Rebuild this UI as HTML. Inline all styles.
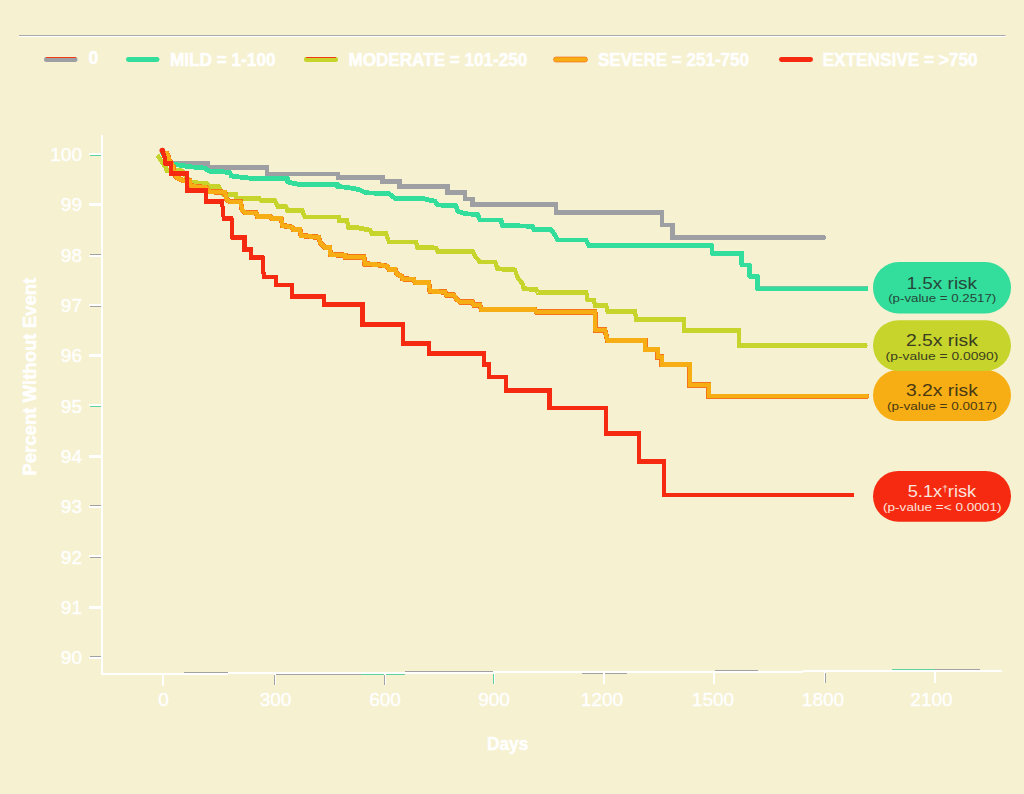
<!DOCTYPE html>
<html>
<head>
<meta charset="utf-8">
<title>Chart</title>
<style>
  html, body { margin: 0; padding: 0; background: #F6F1D1; }
  body { width: 1024px; height: 794px; overflow: hidden; font-family: "Liberation Sans", sans-serif; }
  svg { display: block; }
  text { font-family: "Liberation Sans", sans-serif; }
  .leg { font-weight: bold; font-size: 17.5px; fill: #ffffff; stroke: #ffffff; stroke-width: 0.5px; }
  .tick { font-size: 19px; fill: #ffffff; stroke: #ffffff; stroke-width: 0.35px; }
  .axl { font-weight: bold; font-size: 19px; fill: #ffffff; stroke: #ffffff; stroke-width: 0.5px; }
  .curve { fill: none; shape-rendering: crispEdges; }
  .big { font-size: 16px; }
  .small { font-size: 11px; }
</style>
</head>
<body>
<svg width="1024" height="794" viewBox="0 0 1024 794">
  <rect x="0" y="0" width="1024" height="794" fill="#F6F1D1"/>

  <!-- top rule -->
  <rect x="19" y="35" width="986.5" height="1" fill="#A9A9AC"/>
  <rect x="19" y="36" width="986.5" height="1" fill="#FFFFFF"/>

  <!-- legend -->
  <g>
    <rect x="44" y="57" width="33.5" height="5" rx="2.2" fill="#9E9FA3"/>
    <rect x="46" y="57" width="30" height="1" fill="#F23A14"/>
    <rect x="126" y="57" width="33.5" height="5" rx="2.4" fill="#33DD9B"/>
    <rect x="304" y="57" width="34" height="5" rx="2.2" fill="#C6D42B"/>
    <rect x="306" y="57" width="30" height="1" fill="#F23A14"/>
    <rect x="553.5" y="57" width="34" height="5" rx="2.4" fill="#F7AE14" stroke="#F4601A" stroke-width="0.6"/>
    <rect x="779" y="57" width="34" height="5" rx="2.4" fill="#F52A11"/>
  </g>
  <text class="leg" x="88.6" y="63.8">0</text>
  <text class="leg" x="170" y="65.9" textLength="105.5" lengthAdjust="spacingAndGlyphs">MILD = 1-100</text>
  <text class="leg" x="348.4" y="65.9" textLength="179" lengthAdjust="spacingAndGlyphs">MODERATE = 101-250</text>
  <text class="leg" x="598" y="65.9" textLength="151" lengthAdjust="spacingAndGlyphs">SEVERE = 251-750</text>
  <text class="leg" x="822.6" y="65.9" textLength="155" lengthAdjust="spacingAndGlyphs">EXTENSIVE = &gt;750</text>
  <!-- axes -->
  <g shape-rendering="crispEdges">
    <rect x="101" y="135" width="2" height="540" fill="#FFFFFF"/>
    <rect x="101" y="673" width="127" height="2" fill="#FFFFFF"/>
    <rect x="228" y="672" width="265" height="2" fill="#FFFFFF"/>
    <rect x="493" y="671" width="310" height="2" fill="#FFFFFF"/>
    <rect x="803" y="670" width="199" height="2" fill="#FFFFFF"/>
    <rect x="184" y="672" width="44" height="1" fill="#A2A2A4"/>
    <rect x="275" y="674" width="86" height="1" fill="#A2A2A4"/>
    <rect x="361" y="674" width="43.5" height="1" fill="#5FD3A0"/>
    <rect x="404.5" y="671" width="88.5" height="1" fill="#A2A2A4"/>
    <rect x="582" y="673" width="45" height="1" fill="#A2A2A4"/>
    <rect x="715" y="670" width="43" height="1" fill="#A2A2A4"/>
    <rect x="892" y="669" width="43" height="1" fill="#5FD3A0"/>
    <rect x="935" y="669" width="45" height="1" fill="#A2A2A4"/>
    <rect x="89" y="153" width="12.5" height="2" fill="#FFFFFF"/>
    <rect x="90" y="155" width="11" height="1" fill="#5FD3A0"/>
    <rect x="89" y="203" width="12.5" height="3" fill="#FFFFFF"/>
    <rect x="90" y="254" width="11" height="1" fill="#A2A2A4"/>
    <rect x="89" y="255" width="12.5" height="2" fill="#FFFFFF"/>
    <rect x="89" y="304" width="12.5" height="2" fill="#FFFFFF"/>
    <rect x="90" y="306" width="11" height="1" fill="#A2A2A4"/>
    <rect x="89" y="354" width="12.5" height="3" fill="#FFFFFF"/>
    <rect x="89" y="404" width="12.5" height="2" fill="#FFFFFF"/>
    <rect x="90" y="406" width="11" height="1" fill="#5FD3A0"/>
    <rect x="89" y="455" width="12.5" height="3" fill="#FFFFFF"/>
    <rect x="90" y="505" width="11" height="1" fill="#A2A2A4"/>
    <rect x="89" y="506" width="12.5" height="2" fill="#FFFFFF"/>
    <rect x="89" y="555" width="12.5" height="2" fill="#FFFFFF"/>
    <rect x="90" y="557" width="11" height="1" fill="#A2A2A4"/>
    <rect x="89" y="606" width="12.5" height="3" fill="#FFFFFF"/>
    <rect x="90" y="656" width="11" height="1" fill="#A2A2A4"/>
    <rect x="89" y="657" width="12.5" height="2" fill="#FFFFFF"/>
  </g>
  <g class="tick" text-anchor="end">
    <text x="82" y="161.1">100</text>
    <text x="82" y="211.4">99</text>
    <text x="82" y="261.7">98</text>
    <text x="82" y="312.0">97</text>
    <text x="82" y="362.3">96</text>
    <text x="82" y="412.6">95</text>
    <text x="82" y="462.9">94</text>
    <text x="82" y="513.2">93</text>
    <text x="82" y="563.5">92</text>
    <text x="82" y="613.8">91</text>
    <text x="82" y="664.1">90</text>
  </g>
  <!-- x ticks -->
  <g shape-rendering="crispEdges" fill="#FFFFFF">
    <rect x="162" y="674" width="2" height="12"/>
    <rect x="274" y="673" width="2" height="12"/>
    <rect x="274" y="675" width="1" height="10" fill="#A2A2A4"/>
    <rect x="384" y="673" width="2" height="12"/>
    <rect x="384" y="675" width="1" height="10" fill="#A2A2A4"/>
    <rect x="493" y="672" width="2" height="12"/>
    <rect x="493" y="674" width="1" height="10" fill="#5FD3A0"/>
    <rect x="603" y="672" width="2" height="12"/>
    <rect x="713" y="672" width="2" height="12"/>
    <rect x="824" y="671" width="2" height="12"/>
    <rect x="825" y="673" width="1" height="10" fill="#A2A2A4"/>
    <rect x="933.5" y="671" width="2.5" height="12"/>
  </g>
  <g class="tick" text-anchor="middle">
    <text x="163.5" y="705.5">0</text>
    <text x="275.5" y="705.5">300</text>
    <text x="385" y="705.5">600</text>
    <text x="494" y="705.5">900</text>
    <text x="602" y="705.5">1200</text>
    <text x="713" y="705.5">1500</text>
    <text x="823" y="705.5">1800</text>
    <text x="931.5" y="705.5">2100</text>
  </g>
  <text class="axl" x="487" y="749.6" textLength="41.3" lengthAdjust="spacingAndGlyphs">Days</text>
  <text class="axl" transform="translate(36.2,475.7) rotate(-90)" textLength="198" lengthAdjust="spacingAndGlyphs">Percent Without Event</text>

  <!-- curves -->
  <g transform="scale(1,1.05)"><path class="curve" stroke="#9E9FA3" stroke-width="4.2" stroke-linecap="round" stroke-linejoin="miter"  d="M 163,144.762 L 165,150.476 L 168,155.714 H 208 V 159.429 H 267.2 V 165.714 H 338.3 V 168.857 H 382.5 V 172.952 H 399.5 V 177.524 H 447.5 V 183.333 H 465 V 189.286 H 472.5 V 194.762 H 556.25 V 202.381 H 662 V 214.286 H 672.5 V 226.190 H 824.2"/></g>
  <g transform="scale(1,1.03)"><path class="curve" stroke="#33DD9B" stroke-width="4.7" stroke-linecap="butt" stroke-linejoin="round"  d="M 162,146.602 L 165,153.398 L 168,158.252 L 172.7,159.417 L 189,161.748 L 204.7,163.204 L 209.4,166.262 H 218.75 L 230,167.767 L 231.25,170.874 L 250,173.010 H 287.5 V 176.699 L 298.4,178.932 H 337.5 V 181.165 L 347,181.845 L 359.4,184.175 L 365.6,187.184 L 389,187.961 L 395.3,192.718 H 422.5 L 435,195.388 L 437.5,199.029 L 456,199.515 L 457.5,204.854 L 465,207.524 L 477.5,208.252 L 480,213.592 H 501 L 502.5,218.932 L 532.5,219.660 L 533.75,222.816 H 551 L 555,228.155 L 557.5,233.010 H 586 L 588.75,238.350 H 712 V 245.874 H 741.75 V 257.282 H 749.5 V 268.204 H 757.5 V 280.340 H 867.5"/></g>
  <g transform="scale(1,1.14)"><path class="curve" stroke="#C6D42B" stroke-width="4.3" stroke-linecap="round" stroke-linejoin="miter"  d="M 158.6,137.544 L 162,142.105 L 165.6,146.754 L 166.8,149.561 L 176,149.123 L 182,150.000 L 186,154.386 L 190,160.088 L 198.4,160.526 H 206.25 L 209.4,163.947 H 218.75 L 223.4,170.789 H 236 V 174.123 H 259.4 L 261,175.965 H 275 L 278,181.491 H 286 L 287.5,184.912 H 302.3 L 304.7,190.351 H 339 V 193.158 H 346.9 L 348.4,199.298 L 359.4,200.000 L 370.3,202.018 L 371.9,204.737 H 386 L 389,212.281 H 416 L 417.5,217.105 L 436,217.544 L 437.5,220.395 H 472.5 L 475,224.781 L 480,229.825 H 495 L 497.5,235.746 L 515,236.842 L 517.5,243.421 L 522.5,248.904 L 523.75,253.289 L 536.25,253.947 L 537.5,256.579 H 586.25 L 587.5,263.158 H 593.75 L 595,267.982 H 606.25 L 607.5,273.026 H 635 L 636.25,280.263 H 683.75 V 289.912 H 738.75 V 303.070 H 865.6"/></g>
  <g transform="scale(1,1.08)"><path class="curve" stroke="#F5741A" stroke-width="5.0" stroke-linecap="round" stroke-linejoin="miter"  d="M 167,142.222 L 168.2,144.907 L 169.1,147.685 L 171,150.926 L 173.4,154.259 L 173.4,157.130 L 175.8,163.611 L 182.8,167.222 L 189.8,167.593 L 189.8,171.574 L 196.9,173.056 L 206,173.611 L 209.4,177.407 L 225,178.056 L 226.6,184.630 L 229.7,186.759 H 240.6 L 242.2,194.722 L 245.3,196.944 H 256.25 L 257.4,200.556 H 270.3 L 271.9,202.407 H 281.25 L 282.4,208.796 L 292.2,210.370 L 293,212.500 H 300 L 301,218.056 L 311,219.074 L 318.75,219.722 L 320.3,224.815 L 325,229.167 H 329.7 L 330.5,235.648 L 345.3,236.389 V 238.148 H 364 L 364.8,244.352 L 378,245.093 L 387.5,246.528 L 389,249.444 H 395.3 L 396.9,253.704 L 401.6,255.926 L 402.5,258.102 L 413.75,258.796 L 415,261.574 H 428.75 L 430,269.676 L 445,270.370 L 446.25,273.148 H 453.75 L 456.25,276.620 L 460,279.630 H 472.5 L 473.75,282.407 H 480 L 481.25,286.574 H 535 L 536.25,288.889 H 595 L 595.5,305.556 H 605 L 607.5,315.370 H 645 V 323.611 H 657.5 V 330.556 H 661.75 V 337.500 H 689.5 V 356.481 H 708.75 V 366.898 H 866.8"/></g>
  <g transform="scale(1,1.08)"><path class="curve" stroke="#F7AE14" stroke-width="4.0" stroke-linecap="round" stroke-linejoin="miter"  d="M 167,142.222 L 168.2,144.907 L 169.1,147.685 L 171,150.926 L 173.4,154.259 L 173.4,157.130 L 175.8,163.611 L 182.8,167.222 L 189.8,167.593 L 189.8,171.574 L 196.9,173.056 L 206,173.611 L 209.4,177.407 L 225,178.056 L 226.6,184.630 L 229.7,186.759 H 240.6 L 242.2,194.722 L 245.3,196.944 H 256.25 L 257.4,200.556 H 270.3 L 271.9,202.407 H 281.25 L 282.4,208.796 L 292.2,210.370 L 293,212.500 H 300 L 301,218.056 L 311,219.074 L 318.75,219.722 L 320.3,224.815 L 325,229.167 H 329.7 L 330.5,235.648 L 345.3,236.389 V 238.148 H 364 L 364.8,244.352 L 378,245.093 L 387.5,246.528 L 389,249.444 H 395.3 L 396.9,253.704 L 401.6,255.926 L 402.5,258.102 L 413.75,258.796 L 415,261.574 H 428.75 L 430,269.676 L 445,270.370 L 446.25,273.148 H 453.75 L 456.25,276.620 L 460,279.630 H 472.5 L 473.75,282.407 H 480 L 481.25,286.574 H 535 L 536.25,288.889 H 595 L 595.5,305.556 H 605 L 607.5,315.370 H 645 V 323.611 H 657.5 V 330.556 H 661.75 V 337.500 H 689.5 V 356.481 H 708.75 V 366.898 H 866.8"/></g>
  <g transform="scale(1,1.18)"><path class="curve" stroke="#F52A11" stroke-width="4.1" stroke-linecap="round" stroke-linejoin="miter"  d="M 162.1,127.288 L 163.5,130.508 L 165,134.322 L 165.4,138.475 H 170.7 V 147.119 H 186.7 V 161.356 H 205.7 V 170.763 H 222 L 223.75,185.381 H 231.5 L 232.5,201.102 H 244.5 V 211.441 H 251.4 V 217.881 H 262.5 L 263.75,234.746 H 275.75 V 241.525 H 291.75 V 251.059 H 323.75 V 258.051 H 362.5 V 275.000 H 403 V 291.314 H 428.75 V 299.788 H 483.75 V 308.898 H 489.25 V 319.492 H 506.25 V 330.932 H 549.5 V 345.763 H 606.25 V 367.161 H 639.25 V 390.890 H 663.75 V 419.492 H 852.4"/></g>
  <rect x="759" y="286" width="108" height="1" fill="#8FBFA8" opacity="0.7"/>
  <circle cx="162.3" cy="150.6" r="2.8" fill="#F52A11"/>

  <!-- pills -->
  <rect x="873" y="369.7" width="138" height="51.2" rx="25.6" fill="#F7AE14"/>
  <rect x="873" y="262" width="138" height="51.5" rx="25.7" fill="#33DD9B"/>
  <rect x="873" y="320.2" width="138" height="50.7" rx="25.3" fill="#C6D42B"/>
  <rect x="873" y="470.9" width="138" height="50.8" rx="25.4" fill="#F52A11"/>

  <g fill="#26473a">
    <text class="big" x="906.6" y="288.5" textLength="70.4" lengthAdjust="spacingAndGlyphs">1.5x risk</text>
    <text class="small" x="888.2" y="302" textLength="108" lengthAdjust="spacingAndGlyphs">(p-value = 0.2517)</text>
  </g>
  <g fill="#3a3d1f">
    <text class="big" x="905.9" y="346.25" textLength="72" lengthAdjust="spacingAndGlyphs">2.5x risk</text>
    <text class="small" x="885.6" y="360" textLength="112.8" lengthAdjust="spacingAndGlyphs">(p-value = 0.0090)</text>
  </g>
  <g fill="#493913">
    <text class="big" x="905.9" y="395.6" textLength="72" lengthAdjust="spacingAndGlyphs">3.2x risk</text>
    <text class="small" x="887" y="409.7" textLength="110" lengthAdjust="spacingAndGlyphs">(p-value = 0.0017)</text>
  </g>
  <g fill="#FCE3DC">
    <text class="big" x="907.75" y="497.2" textLength="68.4" lengthAdjust="spacingAndGlyphs">5.1x<tspan font-size="9" dy="-5">†</tspan><tspan dy="5">risk</tspan></text>
    <text class="small" x="883" y="511.25" textLength="118.5" lengthAdjust="spacingAndGlyphs">(p-value =&lt; 0.0001)</text>
  </g>
</svg>
</body>
</html>
